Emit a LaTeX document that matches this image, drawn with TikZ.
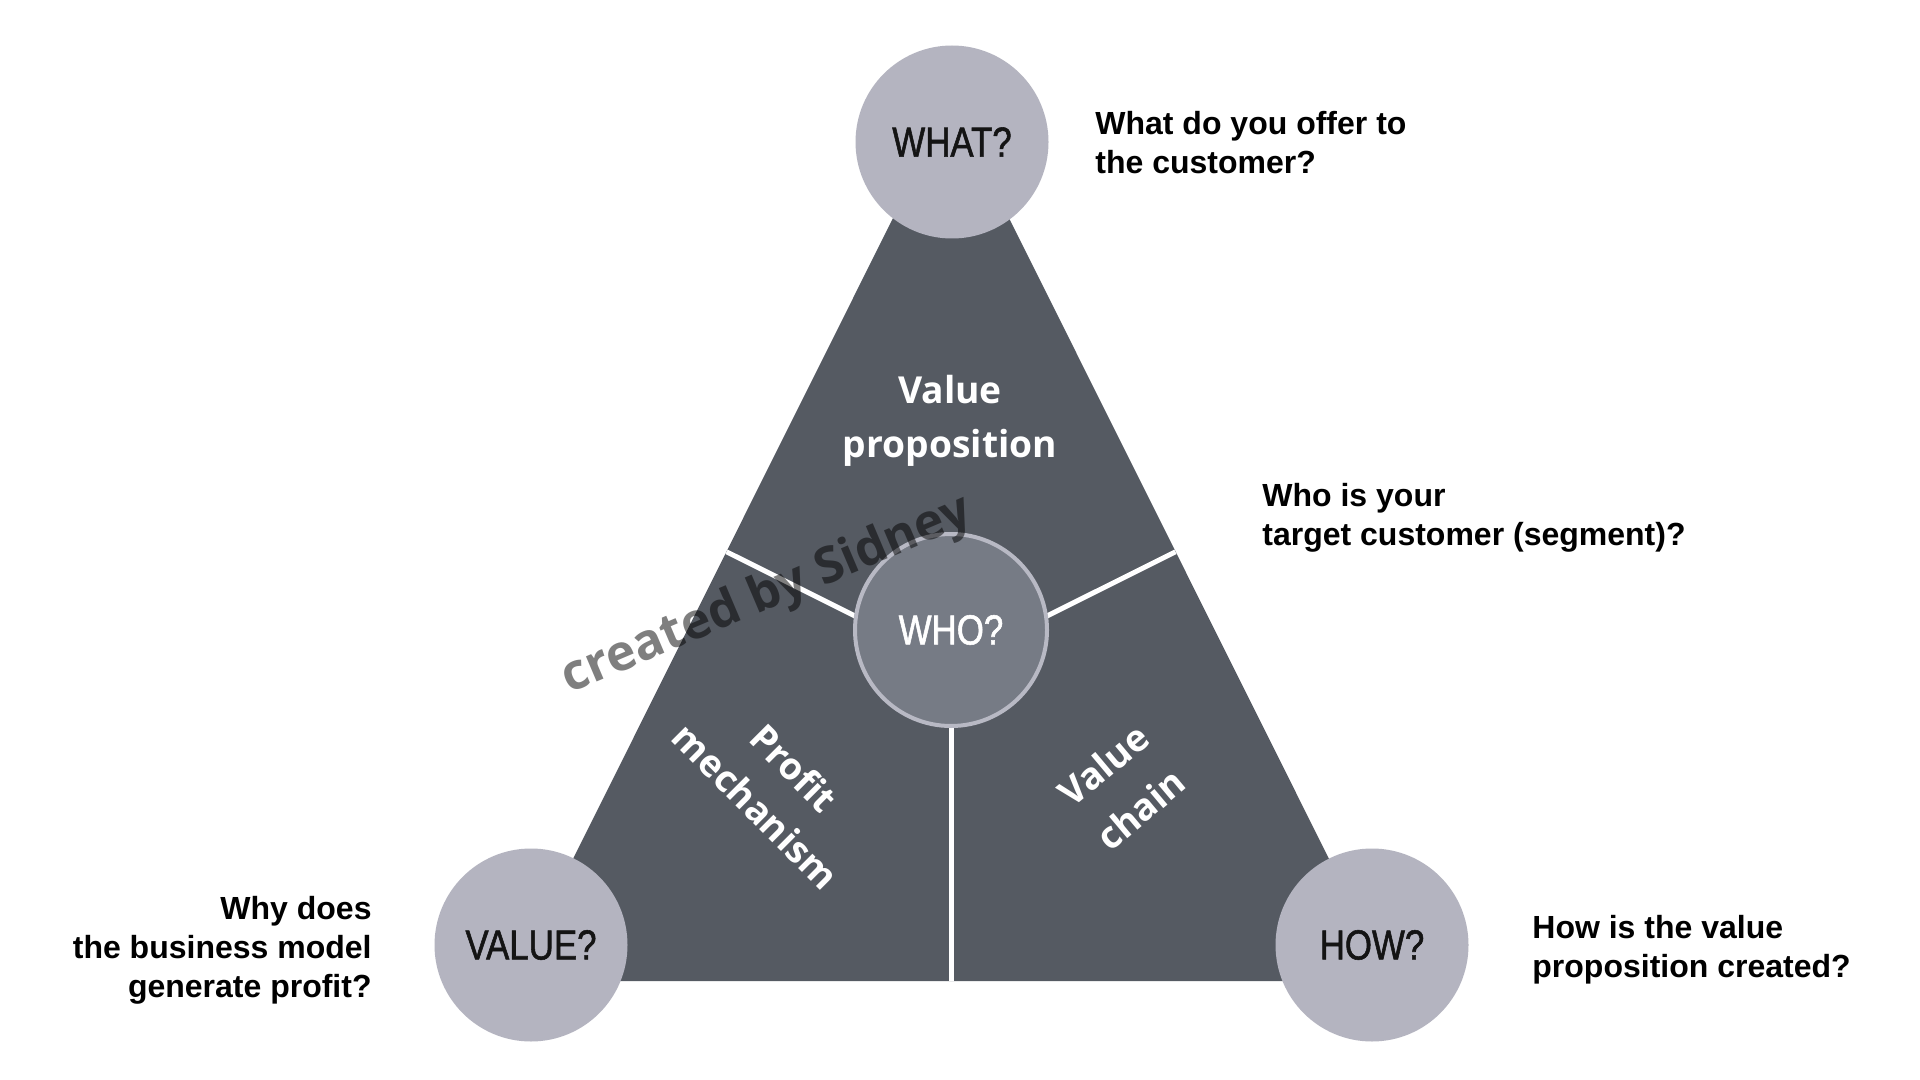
\documentclass[tikz,border=0pt]{standalone}
\usepackage{fontspec}
\setmainfont{Liberation Sans}
\newfontfamily\circfont[FakeStretch=0.83,FakeBold=1.3]{Liberation Sans}
\newfontfamily\segfont{Open Sans}
\definecolor{tri}{HTML}{555A62}
\definecolor{circ}{HTML}{B4B4C0}
\definecolor{whofill}{HTML}{767B85}
\definecolor{whoring}{HTML}{B8B9C4}
\begin{document}
\begin{tikzpicture}[x=0.5pt,y=-0.5pt,
  outer/.style={circle, fill=circ, minimum size=96.5pt, inner sep=0pt,
    font=\circfont\fontsize{21}{25}\selectfont, text=black!92},
  inner/.style={circle, fill=whofill, draw=whoring, line width=2pt,
    minimum size=96pt, inner sep=0pt, text=white,
    font=\circfont\fontsize{21}{25}\selectfont},
  question/.style={inner sep=0pt, font=\bfseries\fontsize{16}{19.5}\selectfont, text=black},
  seglabel/.style={inner sep=0pt, text=white, align=center,
    font=\segfont\bfseries\fontsize{18.6}{27}\selectfont},
  divider/.style={white, line width=2.5pt},
  watermark/.style={inner sep=0pt, text=black, text opacity=0.5,
    font=\segfont\bfseries\fontsize{25}{29}\selectfont}]

\fill[white] (0,0) rectangle (1920,1080);
\path[use as bounding box] (0,0) rectangle (1920,1080);

% triangle
\coordinate (apex) at (951,102);
\coordinate (bl) at (512,981);
\coordinate (br) at (1390,981);
\fill[tri] (apex) -- (br) -- (bl) -- cycle;

% dividers
\coordinate (J) at (951,664);
\coordinate (dl) at (726.5,551.8);
\coordinate (dr) at (1175.5,551.8);
\coordinate (db) at (951,981);
\draw[divider] (dl) -- (J) -- (dr);
\draw[divider] (J) -- (db);

% circles
\node[inner] (who) at (951,630) {WHO?};
\node[outer] (what) at (952,142) {WHAT?};
\node[outer] (value) at (531,945) {VALUE?};
\node[outer] (how) at (1372,945) {HOW?};

% segment labels
\node[seglabel] (vp) at (950,421) {Value\\proposition};
\node[seglabel, rotate=-45] (pm) at (775,787) {Profit\\mechanism};
\node[seglabel, rotate=40, font=\segfont\bfseries\fontsize{18.6}{29}\selectfont] (vc) at (1122,787) {Value\\chain};

% questions (anchor at baseline of last line)
\node[question, anchor=base west, align=left] (qwhat) at (1095,174) {What do you offer to\\the customer?};
\node[question, anchor=base west, align=left] (qwho) at (1262,545) {Who is your\\target customer (segment)?};
\node[question, anchor=base east, align=right] (qvalue) at (372,997) {Why does\\the business model\\generate profit?};
\node[question, anchor=base west, align=left] (qhow) at (1532,977) {How is the value\\proposition created?};

% watermark
\node[watermark, rotate=23] (wm) at (767,596) {created by Sidney};
\end{tikzpicture}
\end{document}
